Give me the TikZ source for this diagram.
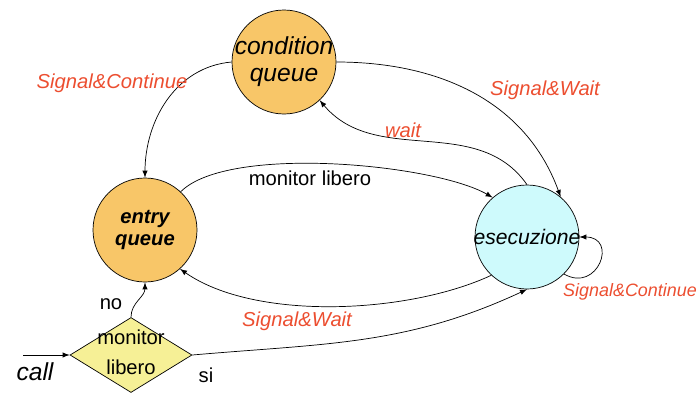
\documentclass[tikz,border=0pt]{standalone}
\usepackage{fontspec}
\setmainfont{Liberation Sans}
\usetikzlibrary{shapes.geometric}
\definecolor{qorange}{RGB}{248,198,104}
\definecolor{runcyan}{RGB}{206,250,252}
\definecolor{testyellow}{RGB}{246,240,150}
\definecolor{lblred}{RGB}{236,78,48}
\begin{document}
\begin{tikzpicture}[>=latex, every node/.style={font=\fontsize{11.5}{13}\selectfont},
    state/.style={circle,draw,thin,minimum size=2.08cm,inner sep=0pt},
    test/.style={diamond,draw,thin,fill=testyellow,minimum width=2.44cm,minimum height=1.5cm,inner sep=0pt},
    lbl/.style={text=lblred,font=\fontsize{11.5}{13}\selectfont\itshape},
    link/.style={->,thin}]
  \useasboundingbox (0,0) rectangle (14,8.1);
  % states
  \node[state,fill=qorange] (cq) at (5.68,6.86) {};
  \node[align=center,font=\fontsize{14}{15.5}\selectfont\itshape] (cqtext) at (cq) {condition\\queue};
  \node[state,fill=qorange] (eq) at (2.90,3.50) {};
  \node[align=center,font=\fontsize{11.5}{13}\selectfont\bfseries\itshape] (eqtext) at (eq) {entry\\queue};
  \node[state,fill=runcyan] (ex) at (10.54,3.36) {};
  \node[font=\fontsize{12}{14}\selectfont\itshape] (extext) at (ex) {esecuzione};
  \node[test] (dia) at (2.62,1.00) {};
  \node[align=center,font=\fontsize{11.5}{17}\selectfont] (diatext) at (2.62,1.05) {monitor\\libero};
  \coordinate (callin) at (0.46,1.00);
  \node[font=\fontsize{14}{16}\selectfont\itshape] (call) at (0.70,0.66) {call};
  % transitions
  \draw[link] (callin) -- (dia.west);
  \draw[link] (cq.west) to[out=185,in=90] (eq.north);
  \draw[link] (cq.east) to[out=0,in=110] (ex.50);
  \draw[link] (ex.north) to[out=125,in=-50] (cq.-47);
  \draw[link] (eq.47) to[out=45,in=150,looseness=0.55] (ex.131);
  \draw[link] (ex.227) to[out=205,in=-35,looseness=0.75] (eq.-48);
  \draw[link] (dia.east) to[out=5,in=205] (ex.south);
  \draw[link] (dia.north) to[out=90,in=-90] (eq.south);
  \draw[link] (ex.-45) to[out=-30,in=0,looseness=2.5] (ex.east);
  % labels
  \node[lbl] (l1) at (2.24,6.44) {Signal\&Continue};
  \node[lbl] (l2) at (10.90,6.30) {Signal\&Wait};
  \node[lbl] (l3) at (8.06,5.50) {wait};
  \node (l4) at (6.20,4.54) {monitor libero};
  \node[lbl] (l5) at (5.94,1.68) {Signal\&Wait};
  \node[lbl,font=\fontsize{10.2}{12}\selectfont\itshape] (l6) at (12.60,2.26) {Signal\&Continue};
  \node (l7) at (2.22,2.02) {no};
  \node (l8) at (4.12,0.60) {si};
\end{tikzpicture}
\end{document}
